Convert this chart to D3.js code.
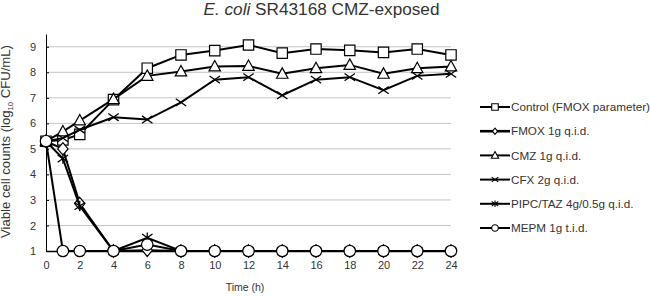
<!DOCTYPE html>
<html>
<head>
<meta charset="utf-8">
<script src="https://cdn.jsdelivr.net/npm/d3@7"></script>
<style>
  body { margin: 0; background: #fff; }
  text { font-family: "Liberation Sans", Arial, sans-serif; fill: #333; }
</style>
</head>
<body>
<script>
var w = 650, h = 296;

// time points (h)
var times = [0, 1, 2, 4, 6, 8, 10, 12, 14, 16, 18, 20, 22, 24];
var xTicks = [0, 2, 4, 6, 8, 10, 12, 14, 16, 18, 20, 22, 24];
var yTicks = [1, 2, 3, 4, 5, 6, 7, 8, 9];

// log10 CFU/mL
var control = [5.3, 5.35, 5.57, 6.93, 8.16, 8.68, 8.85, 9.07, 8.75, 8.91, 8.86, 8.78, 8.91, 8.68];
var fmox    = [5.3, 5.0, 2.86, 1, 1.03, 1, 1, 1, 1, 1, 1, 1, 1, 1];
var cmz     = [5.3, 5.68, 6.11, 6.95, 7.86, 8.03, 8.23, 8.25, 7.94, 8.16, 8.29, 7.94, 8.16, 8.23];
var cfx     = [5.3, 5.42, 5.75, 6.24, 6.15, 6.82, 7.71, 7.81, 7.1, 7.71, 7.81, 7.3, 7.86, 7.94];
var pipc    = [5.3, 4.62, 2.76, 1, 1.52, 1, 1, 1, 1, 1, 1, 1, 1, 1];
var mepm    = [5.3, 1, 1, 1, 1.25, 1, 1, 1, 1, 1, 1, 1, 1, 1];

var names = ["Control (FMOX parameter)", "FMOX 1g q.i.d.", "CMZ 1g q.i.d.",
             "CFX 2g q.i.d.", "PIPC/TAZ 4g/0.5g q.i.d.", "MEPM 1g t.i.d."];
var shapes = ["square", "diamond", "triangle", "cross", "star", "circle"];

var series = [control, fmox, cmz, cfx, pipc, mepm].map(function(v, i) {
    return {name: names[i], shape: shapes[i], values: v};
});

var margin = {top: 34, left: 46},
    width = 405,
    height = 217;

var x = d3.scaleLinear().domain([0, 24]).range([0, width]);
var y = d3.scaleLinear().domain([1, 9.5]).range([height, 0]);

var svg = d3.select("body").append("svg")
    .attr("width", w)
    .attr("height", h);

var chart = svg.append("g")
    .attr("transform", "translate(" + margin.left + "," + margin.top + ")");

// gridlines
chart.append("g")
    .selectAll("line")
    .data(yTicks.slice(1))
    .enter().append("line")
    .attr("x1", 0)
    .attr("x2", width)
    .attr("y1", function(d) { return y(d); })
    .attr("y2", function(d) { return y(d); })
    .attr("stroke", "#c4c4c4")
    .attr("stroke-width", 1);

// y axis
var yAxis = chart.append("g")
    .call(d3.axisLeft(y).tickValues(yTicks).tickSizeInner(-3).tickSizeOuter(0).tickPadding(10));
yAxis.select(".domain").attr("stroke", "#000");
yAxis.selectAll(".tick line").attr("stroke", "#000");
yAxis.selectAll("text").style("font-size", "11px").attr("fill", "#333");

// x axis
var xAxis = chart.append("g")
    .attr("transform", "translate(0," + height + ")")
    .call(d3.axisBottom(x).tickValues(xTicks).tickSize(0).tickPadding(10));
xAxis.select(".domain").attr("stroke", "#000").attr("stroke-width", 1.5);
xAxis.selectAll("text").style("font-size", "11px").attr("fill", "#333");

function symbolPath(shape, s) {
    if (shape === "square") return "M" + (-s) + "," + (-s) + "h" + 2 * s + "v" + 2 * s + "h" + (-2 * s) + "Z";
    if (shape === "diamond") return "M0," + (-s * 1.2) + "L" + s + ",0L0," + (s * 1.2) + "L" + (-s) + ",0Z";
    if (shape === "triangle") return "M0," + (-s * 1.15) + "L" + (s * 1.1) + "," + (s * 0.85) + "L" + (-s * 1.1) + "," + (s * 0.85) + "Z";
    if (shape === "cross") return "M" + (-s) + "," + (-s * 0.7) + "L" + s + "," + (s * 0.7) + "M" + (-s) + "," + (s * 0.7) + "L" + s + "," + (-s * 0.7);
    if (shape === "star") return "M" + (-s) + "," + (-s * 0.7) + "L" + s + "," + (s * 0.7) + "M" + (-s) + "," + (s * 0.7) + "L" + s + "," + (-s * 0.7) + "M0," + (-s) + "V" + s;
    return d3.symbol().type(d3.symbolCircle).size(Math.PI * s * s)();
}

var line = d3.line()
    .x(function(d, i) { return x(times[i]); })
    .y(function(d) { return y(d); });

var groups = chart.selectAll(".series")
    .data(series)
    .enter().append("g")
    .attr("class", "series");

groups.append("path")
    .attr("d", function(d) { return line(d.values); })
    .attr("fill", "none")
    .attr("stroke", "#000")
    .attr("stroke-width", 2);

groups.each(function(s) {
    var size = s.shape === "circle" ? 5.7 : 5.2;
    d3.select(this).selectAll(".pt")
        .data(s.values)
        .enter().append("path")
        .attr("transform", function(d, i) { return "translate(" + x(times[i]) + "," + y(d) + ")"; })
        .attr("d", symbolPath(s.shape, size))
        .attr("fill", (s.shape === "cross" || s.shape === "star") ? "none" : "#fff")
        .attr("stroke", "#000")
        .attr("stroke-width", (s.shape === "cross" || s.shape === "star") ? 1.3 : 1.2);
});

// legend
var legend = svg.append("g")
    .selectAll("g")
    .data(series)
    .enter().append("g")
    .attr("transform", function(d, i) { return "translate(480," + (107 + i * 24.2) + ")"; });

legend.append("line")
    .attr("x1", 0)
    .attr("x2", 30)
    .attr("stroke", "#000")
    .attr("stroke-width", function(d) { return d.shape === "diamond" ? 2.6 : 2; });

legend.append("path")
    .attr("transform", "translate(15,0)")
    .attr("d", function(d) { return symbolPath(d.shape, d.shape === "diamond" ? 2.6 : 3.3); })
    .attr("fill", function(d) { return (d.shape === "cross" || d.shape === "star") ? "none" : "#fff"; })
    .attr("stroke", "#000")
    .attr("stroke-width", 1.1);

legend.append("text")
    .attr("x", 31)
    .attr("dy", "0.35em")
    .style("font-size", "11.7px")
    .text(function(d) { return d.name; });

// title
var title = svg.append("text")
    .attr("x", 321.5)
    .attr("y", 14.5)
    .attr("text-anchor", "middle")
    .attr("textLength", 236)
    .attr("lengthAdjust", "spacingAndGlyphs")
    .style("font-size", "16px");
title.append("tspan").style("font-style", "italic").text("E. coli");
title.append("tspan").text(" SR43168 CMZ-exposed");

// axis titles
svg.append("text")
    .attr("x", 245)
    .attr("y", 291)
    .attr("text-anchor", "middle")
    .style("font-size", "10.5px")
    .text("Time (h)");

var ylab = svg.append("text")
    .attr("transform", "translate(10,141.5) rotate(-90)")
    .attr("text-anchor", "middle")
    .attr("textLength", 193)
    .attr("lengthAdjust", "spacingAndGlyphs")
    .style("font-size", "12px");
ylab.append("tspan").text("Viable cell counts (log");
ylab.append("tspan").attr("dy", 3).style("font-size", "7px").text("10");
ylab.append("tspan").attr("dy", -3).text(" CFU/mL)");
</script>
</body>
</html>
